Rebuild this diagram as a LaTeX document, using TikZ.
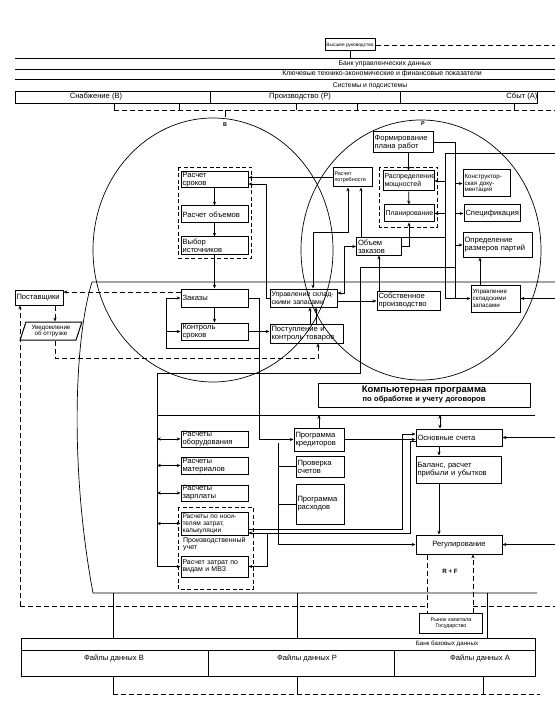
\documentclass[tikz,border=0pt]{standalone}
\usepackage{fontspec}
\setmainfont{Liberation Sans}
\usetikzlibrary{arrows.meta,shapes.geometric}
\newcommand{\fs}{\fontsize{7.6}{8}\selectfont}
\newcommand{\fsn}{\fontsize{7}{7.5}\selectfont}
\newcommand{\fsm}{\fontsize{6.2}{6.9}\selectfont}
\newcommand{\fss}{\fontsize{5.4}{6}\selectfont}
\tikzset{
  box/.style 2 args={draw, line width=1pt, align=left, font=\fs,
    inner xsep=1.5pt, inner ysep=0pt, minimum width=#1, text width=#1-3pt,
    minimum height=#2},
  cbox/.style 2 args={box={#1}{#2}, align=center},
  grp/.style={draw, line width=0.9pt, dash pattern=on 4pt off 2.5pt},
  ln/.style={line width=0.7pt},
  dl/.style={line width=0.7pt, dash pattern=on 5pt off 3pt},
  lbl/.style={inner sep=0pt},
  >={Stealth[length=3.8pt,width=3.2pt]}
}
\begin{document}
\begin{tikzpicture}[x=1pt,y=-1pt]
\useasboundingbox (0,0) rectangle (555,708);
% header
\node[draw, line width=1pt, minimum width=50pt, minimum height=12pt, inner sep=1pt,
  font=\fontsize{4.8}{5.5}\selectfont] (hr) at (350,45) {Высшее руководство};
\draw[dl] (hr.east) -- (555,45);
\draw[ln] (hr.south) -- (hr.south |- 0,58);
\draw[ln] (15,58) -- (555,58) (15,69) -- (555,69) (15,79) -- (555,79) (15,91) -- (555,91);
\draw[ln] (15,91) rectangle (537,103) (210,91) -- (210,103) (400,91) -- (400,103);
\node[lbl, font=\fontsize{6.8}{7}\selectfont] (bud) at (385,63.5) {Банк управленческих данных};
\node[lbl, font=\fontsize{7}{7}\selectfont] (ktp) at (382,74) {Ключевые технико-экономические и финансовые показатели};
\node[lbl, font=\fontsize{6.8}{7}\selectfont] (sys) at (370,85.5) {Системы и подсистемы};
\node[lbl, font=\fs] (snab) at (96,97) {Снабжение (В)};
\node[lbl, font=\fs] (proizv) at (300,97) {Производство (Р)};
\node[lbl, font=\fs] (sbyt) at (522,97) {Сбыт (А)};
\foreach \x in {114,179,296,357,514} \draw[ln] (\x,103) -- (\x,110);
\draw[dl] (114,110) -- (555,110);
\draw[ln] (225,110) -- (225,117);
% circles
\draw[ln] (213,250) ellipse [x radius=120pt, y radius=132pt];
\draw[ln] (421,250) ellipse [x radius=120pt, y radius=130pt];
\node[lbl, font=\bfseries\fss] (lB) at (225,125) {В};
\node[lbl, font=\bfseries\fss] (lP) at (423,124) {Р};
% outer frame
\draw[ln] (555,282) -- (92,282) .. controls (74,340) and (70,470) .. (93,593) -- (537,593);
\foreach \x in {113,297,487} \draw[ln] (\x,593) -- (\x,638);
\draw[dl] (20,606) -- (427,606) (473,606) -- (555,606);
% B
\draw[grp] (178,167) rectangle (251,258);
\node[box={67pt}{16pt}] (rsrok) at (214.5,180) {Расчет\\сроков};
\node[box={67pt}{17pt}] (robj) at (214.5,214.5) {Расчет объемов};
\node[box={67pt}{17pt}] (vybor) at (214.5,245.5) {Выбор\\источников};
\node[box={67pt}{18pt}] (zak) at (214.5,298) {Заказы};
\node[box={67pt}{17pt}] (kontr) at (214.5,331.5) {Контроль\\сроков};
\node[box={67pt}{18pt}, font=\fsn] (upr) at (303.5,298) {Управление склад-\\скими запасами};
\node[box={73pt}{19pt}] (postup) at (306.5,333.5) {Поступление и\\контроль товаров};
% P
\draw[grp] (379,167) rectangle (437,227);
\node[box={60pt}{21pt}] (form) at (403,142.5) {Формирование\\плана работ};
\node[box={51pt}{20pt}, font=\fsn] (raspr) at (408.5,181) {Распределение\\мощностей};
\node[box={50pt}{17pt}, font=\fsn] (plan) at (409,213.5) {Планирование};
\node[box={47pt}{27pt}, font=\fsm] (konstr) at (486.5,183.5) {Конструктор-\\ская доку-\\ментация};
\node[box={56pt}{17pt}] (spec) at (492,213.5) {Спецификация};
\node[box={69pt}{24pt}] (opred) at (497.5,245) {Определение\\размеров партий};
\node[box={39pt}{19pt}, font=\fss] (rpotr) at (352.5,177.5) {Расчет\\потребности};
\node[box={45pt}{17pt}] (obzak) at (379,246.5) {Объем\\заказов};
\node[box={63pt}{19pt}] (sobst) at (408.5,301) {Собственное\\производство};
\node[box={49pt}{27pt}, font=\fsm] (uprsb) at (495.5,298.5) {Управление\\складскими\\запасами};
% left
\node[box={48pt}{15pt}] (post) at (39,297.5) {Поставщики};
\node[draw, line width=1pt, trapezium, trapezium left angle=70, trapezium right angle=110,
  trapezium stretches=true, minimum width=62pt, minimum height=18pt, inner sep=0pt,
  align=center, font=\fsm] (uved) at (51,331) {Уведомление\\об отгрузке};
% lower part
\node[cbox={212pt}{24pt}, font=\fontsize{7.5}{9}\selectfont\bfseries] (komp) at (424,395) {{\fontsize{9.5}{10}\selectfont Компьютерная программа}\\по обработке и учету договоров};
\node[box={67pt}{16pt}] (obor) at (214.5,439) {Расчеты\\оборудования};
\node[box={67pt}{17pt}] (mat) at (214.5,465.5) {Расчеты\\материалов};
\node[box={67pt}{16pt}] (zarp) at (214.5,493) {Расчеты\\зарплаты};
\draw[grp] (178,507) rectangle (253,589);
\node[box={67pt}{23pt}, font=\fontsize{6.6}{7}\selectfont] (nosit) at (214.5,523.5) {Расчеты по носи-\\телям затрат,\\калькуляции};
\node[lbl, anchor=north west, align=left, font=\fsn] (puch) at (183,537) {Производственный\\учет};
\node[box={67pt}{21pt}, font=\fsn] (zatr) at (214.5,566.5) {Расчет затрат по\\видам и МВЗ};
\node[box={50pt}{23pt}] (pkred) at (319,439.5) {Программа\\кредиторов};
\node[box={48pt}{21pt}] (pschet) at (320,466.5) {Проверка\\счетов};
\node[box={48pt}{40pt}] (prash) at (320,504) {Программа\\расходов};
\node[box={86pt}{17pt}] (osn) at (459,437.5) {Основные счета};
\node[box={85pt}{27pt}] (bal) at (458.5,469.5) {Баланс, расчет\\прибыли и убытков};
\node[cbox={86pt}{19pt}] (reg) at (459,544.5) {Регулирование};
\node[lbl, font=\bfseries\fsm] (rf) at (450,571) {R + F};
\node[cbox={63pt}{20pt}, font=\fss] (rynok) at (451,623) {Рынок капитала\\Государство};
% bank
\draw[ln] (21,638) rectangle (535,676) (21,650) -- (535,650) (208,650) -- (208,676) (394,650) -- (394,676);
\node[lbl, font=\fsm] (bbd) at (447,644) {Банк базовых данных};
\node[lbl, font=\fs] (fb) at (114,658) {Файлы данных В};
\node[lbl, font=\fs] (fp) at (307,658) {Файлы данных Р};
\node[lbl, font=\fs] (fa) at (480,658) {Файлы данных А};
\foreach \x in {113,297,483} \draw[ln] (\x,676) -- (\x,694);
\draw[dl] (113,694) -- (540,694);
% connectors B
\draw[ln,->] (rsrok) -- (robj);
\draw[ln,->] (robj) -- (vybor);
\draw[ln,->] (vybor) -- (zak);
\draw[ln,->] (zak) -- (kontr);
\draw[ln,->] (rpotr.west) -- (rpotr.west -| rsrok.east);
\draw[ln,->] (upr.west) -- ++(-3,0) |- (rsrok.east |- 0,184);
\draw[ln,->] (zak.east) -- ++(11,0) |- (pkred.west);
\draw[ln,->] (259,348) -| (166,298) -- (zak.west);
\draw[ln,->] (166,331.5) -- (kontr.west);
\draw[ln,->] (kontr.east) -- (kontr.east -| postup.west);
\draw[ln,->] (310,0 |- postup.north) -- (310,0 |- upr.south);
\draw[ln,->] (316,0 |- postup.north) -- (316,0 |- upr.south);
\draw[ln,<->] (313,0 |- upr.north) -- (313,232) -| (348,0 |- rpotr.south);
\draw[ln,<-] (361,0 |- rpotr.south) |- (445,237);
% connectors P
\draw[ln] (555,153) -- (445,153) -- (445,0 |- uprsb.west);
\draw[ln] (form.east) -- (455,0 |- form.east) -- (455,0 |- uprsb.west);
\draw[ln,->] (445,0 |- raspr.east) -- (raspr.east);
\draw[ln,->] (445,0 |- plan.east) -- (plan.east);
\draw[ln,->] (455,0 |- konstr.west) -- (konstr.west);
\draw[ln,->] (455,0 |- spec.west) -- (spec.west);
\draw[ln,->] (455,0 |- opred.west) -- (opred.west);
\draw[ln,->] (445,0 |- uprsb.west) -- (uprsb.west);
\draw[ln,->] (raspr.north |- form.south) -- (raspr.north);
\draw[ln,->] (raspr) -- (plan);
\draw[ln,->] (obzak.east) -| (plan.south);
\draw[ln,<->] (obzak.west) -- ++(-11.5,0) |- (upr.east |- 0,293);
\draw[ln,->] (upr.east |- sobst.west) -- (sobst.west);
\draw[ln,->] (sobst.north -| obzak.south) -- (obzak.south);
\draw[ln] (455,267) -- (360,267) -- (360,373) -- (157,373) -- (157,0 |- zatr.west);
\draw[ln,->] (480,0 |- uprsb.north) -- (480,0 |- opred.south);
\draw[ln,<-] (uprsb.east) -- (555,0 |- uprsb.east);
% connectors left
\draw[dl,->] (zak.west |- 0,292) -- (post.east |- 0,292);
\draw[dl,->] (55,0 |- post.south) -- (55,0 |- uved.north);
\draw[dl,->] (55,0 |- uved.south) -- (55,358) -| (318,0 |- postup.south);
\draw[dl,->] (20,606) -- (20,0 |- post.south);
% connectors lower part
\draw[ln] (157,415) -- (535,415);
\foreach \n in {obor,mat,zarp,nosit} \draw[ln,<->] (157,0 |- \n.west) -- (\n.west);
\draw[ln,->] (157,0 |- zatr.west) -- (zatr.west);
\draw[ln,->] (pkred.north) -- (pkred.north |- 0,415);
\draw[ln,<->] (440,0 |- osn.north) -- (440,415);
\draw[ln,->] (pkred.east) -- (pkred.east -| osn.west);
\draw[ln,->] (278,443) |- (reg.west);
\draw[ln] (278,0 |- pschet.west) -- (pschet.west) (278,0 |- prash.west) -- (prash.west);
\draw[ln,->] (nosit.east |- 0,529) -| (402,434) -- (osn.west |- 0,434);
\draw[ln,<-] (nosit.east |- 0,533) -| (410,441) -- (osn.west |- 0,441);
\draw[ln,->] (267,533) |- (zatr.east);
\draw[ln,->] (439,0 |- osn.south) -- (439,0 |- bal.north);
\draw[ln,->] (439,0 |- bal.south) -- (439,0 |- reg.north);
\draw[ln,<-] (osn.east) -- (555,0 |- osn.east);
\draw[ln,<-] (reg.east) -- (555,0 |- reg.east);
\draw[dl] (427,0 |- reg.south) -- (427,0 |- rynok.north);
\draw[dl,->] (473,0 |- rynok.north) -- (473,0 |- reg.south);
\end{tikzpicture}
\end{document}
